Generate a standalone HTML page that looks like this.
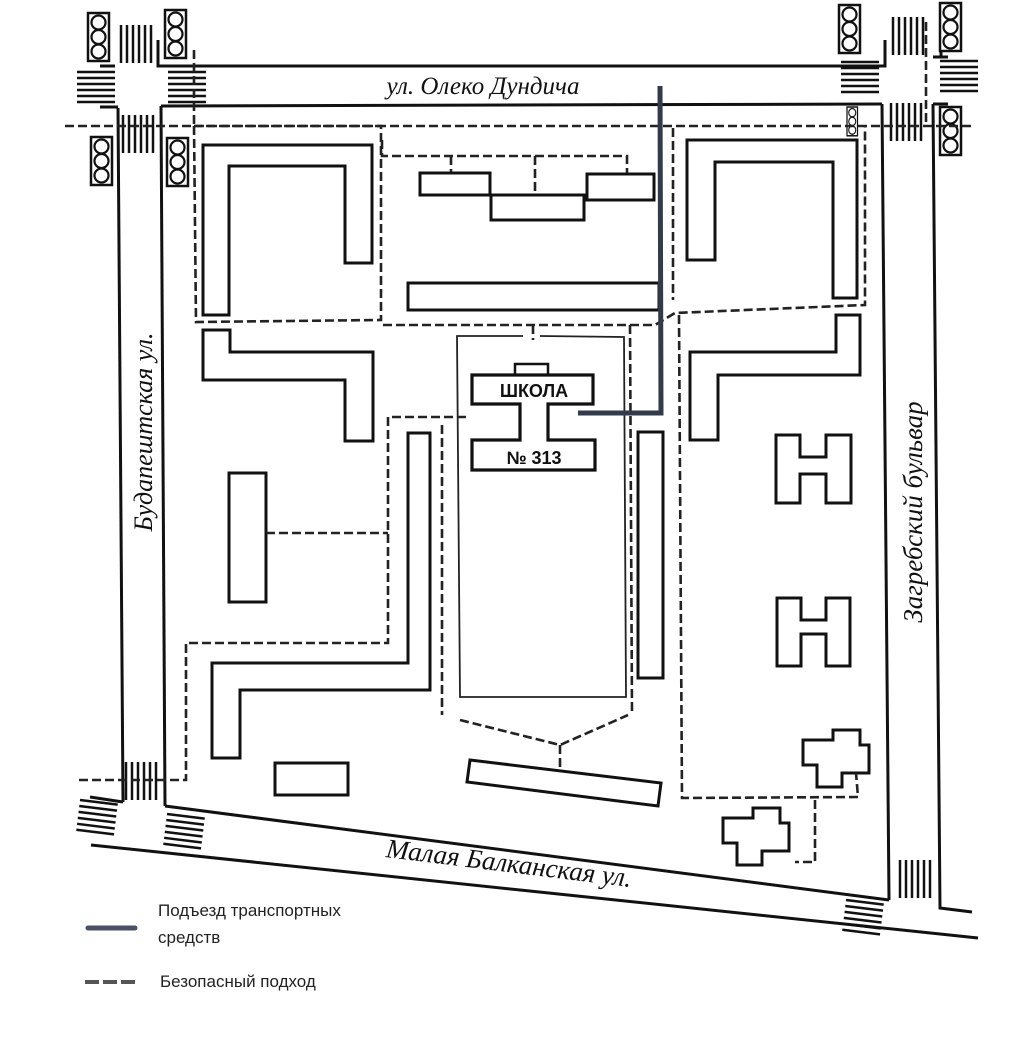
<!DOCTYPE html>
<html><head><meta charset="utf-8"><style>
html,body{margin:0;padding:0;background:#fff;}
svg{display:block;}
.t{font-family:"Liberation Serif","DejaVu Serif",serif;font-style:italic;fill:#111;}
.l{font-family:"Liberation Sans","DejaVu Sans",sans-serif;font-size:17px;fill:#222;}
</style></head><body>
<svg width="1024" height="1040" viewBox="0 0 1024 1040" xmlns="http://www.w3.org/2000/svg">
<g fill="none" stroke="#111" stroke-width="3">
<polyline points="158,40 158,66 885,66 885,40"/>
<line x1="161" y1="106" x2="882" y2="104"/>
<polyline points="115,66 100,66"/>
<line x1="118" y1="108" x2="123" y2="802"/>
<line x1="161" y1="106" x2="165" y2="806"/>
<line x1="123" y1="802" x2="90" y2="797"/>
<polyline points="882,104 889,900"/>
<polyline points="933,104 940,908 972,912"/>
<line x1="165" y1="806" x2="889" y2="900"/>
<line x1="91" y1="845" x2="978" y2="938"/>
<line x1="100" y1="107" x2="118" y2="107"/>
<line x1="933" y1="104" x2="948" y2="104"/>
<line x1="933" y1="57" x2="948" y2="57"/>
<line x1="941" y1="40" x2="941" y2="57"/>
</g>
<g stroke="#111" stroke-width="2.5">
<g id="v1"><line x1="121" y1="25" x2="121" y2="63"/><line x1="127" y1="25" x2="127" y2="63"/><line x1="133" y1="25" x2="133" y2="63"/><line x1="139" y1="25" x2="139" y2="63"/><line x1="145" y1="25" x2="145" y2="63"/><line x1="151" y1="25" x2="151" y2="63"/></g>
<use href="#v1" transform="translate(2,90)"/>
<use href="#v1" transform="translate(772,-8)"/>
<use href="#v1" transform="translate(770,78)"/>
<use href="#v1" transform="translate(5,737)"/>
<use href="#v1" transform="translate(779,835)"/>
<g id="h1"><line x1="77" y1="72" x2="115" y2="72"/><line x1="77" y1="78" x2="115" y2="78"/><line x1="77" y1="84" x2="115" y2="84"/><line x1="77" y1="90" x2="115" y2="90"/><line x1="77" y1="96" x2="115" y2="96"/><line x1="77" y1="102" x2="115" y2="102"/></g>
<use href="#h1" transform="translate(91,0)"/>
<use href="#h1" transform="translate(764,-10)"/>
<use href="#h1" transform="translate(863,-11)"/>
<g transform="translate(80,800) rotate(7)"><use href="#h1" transform="translate(-77,-72)"/></g>
<g transform="translate(167,814) rotate(7)"><use href="#h1" transform="translate(-77,-72)"/></g>
<g transform="translate(846,900) rotate(7)"><use href="#h1" transform="translate(-77,-72)"/></g>
</g>
<defs><g id="tl"><rect x="0" y="0" width="21" height="48" fill="#fff" stroke="#111" stroke-width="2.5"/><circle cx="10.5" cy="9.5" r="7" fill="none" stroke="#111" stroke-width="2.2"/><circle cx="10.5" cy="24" r="7" fill="none" stroke="#111" stroke-width="2.2"/><circle cx="10.5" cy="38.5" r="7" fill="none" stroke="#111" stroke-width="2.2"/></g></defs>
<use href="#tl" x="88" y="13"/><use href="#tl" x="165" y="10"/>
<use href="#tl" x="91" y="137"/><use href="#tl" x="167" y="138"/>
<use href="#tl" x="839" y="5"/><use href="#tl" x="940" y="3"/>
<use href="#tl" x="940" y="107"/>
<g transform="translate(847,107) scale(0.5,0.6)"><use href="#tl"/></g>
<text class="t" x="483" y="94" text-anchor="middle" font-size="25">ул. Олеко Дундича</text>
<text class="t" transform="translate(152,432) rotate(-90)" text-anchor="middle" font-size="26">Будапештская ул.</text>
<text class="t" transform="translate(922,512) rotate(-90)" text-anchor="middle" font-size="27">Загребский бульвар</text>
<text class="t" transform="translate(508,872) rotate(7)" text-anchor="middle" font-size="27">Малая Балканская ул.</text>
<g fill="none" stroke="#111" stroke-width="3">
<polygon points="203,145 372,145 372,263 345,263 345,166 229,166 229,315 203,315"/>
<rect x="420" y="173" width="70" height="22"/>
<rect x="491" y="195" width="93" height="25"/>
<rect x="587" y="174" width="67" height="26"/>
<rect x="408" y="283" width="251" height="27"/>
<polygon points="203,330 230,330 230,352 373,352 373,441 345,441 345,380 203,380"/>
<rect x="229" y="473" width="37" height="129"/>
<polygon points="408,433 430,433 430,690 240,690 240,758 212,758 212,663 408,663"/>
<rect x="275" y="763" width="73" height="32"/>
<polygon points="470,760 661,783 658,806 467,782"/>
<rect x="638" y="432" width="25" height="246"/>
<polygon points="687,140 857,140 857,298 833,298 833,162 715,162 715,260 687,260"/>
<polygon points="836,315 860,315 860,375 718,375 718,440 690,440 690,352 836,352"/>
<polygon points="776,435 800,435 800,457 826,457 826,435 851,435 851,503 826,503 826,474 800,474 800,503 776,503"/>
<polygon points="777,598 801,598 801,620 826,620 826,598 850,598 850,666 826,666 826,634 801,634 801,666 777,666"/>
<polygon id="cr" points="803,740 833,740 833,730 860,730 860,745 869,745 869,773 842,773 842,787 817,787 817,765 803,765"/>
<use href="#cr" transform="translate(-80,78)"/>
<polygon points="472,375 593,375 593,404 548,404 548,440 595,440 595,470 472,470 472,440 520,440 520,404 472,404" stroke-width="3.2"/>
<rect x="515" y="364" width="33" height="11" stroke-width="2.5"/>
</g>
<g fill="none" stroke="#222" stroke-width="1.8">
<polyline points="523,336 457,336 460,697 626,697 624,337 540,336"/>
</g>
<text x="534" y="397" text-anchor="middle" font-family="Liberation Sans,sans-serif" font-weight="bold" font-size="18" fill="#111">ШКОЛА</text>
<text x="534" y="464" text-anchor="middle" font-family="Liberation Sans,sans-serif" font-weight="bold" font-size="18" fill="#111">№ 313</text>
<g fill="none" stroke="#222" stroke-width="2.6" stroke-dasharray="9,4">
<line x1="65" y1="126" x2="975" y2="126"/>
<line x1="194" y1="50" x2="194" y2="126"/>
<line x1="926" y1="22" x2="926" y2="126"/>
<polyline points="194,126 196,322 381,320 381,126 194,126"/>
<polyline points="382,140 382,156 627,156 627,173"/>
<line x1="451" y1="156" x2="451" y2="172"/>
<line x1="535" y1="156" x2="535" y2="193"/>
<polyline points="383,325 655,325 675,313 865,305 865,126"/>
<polyline points="673,128 673,300"/>
<line x1="533" y1="325" x2="533" y2="340"/>
<polyline points="466,417 388,417 388,643 186,643 186,780 78,780"/>
<line x1="266" y1="533" x2="388" y2="533"/>
<line x1="442" y1="425" x2="442" y2="715"/>
<line x1="630" y1="325" x2="632" y2="712"/>
<polyline points="460,720 560,745 628,715"/>
<line x1="560" y1="745" x2="560" y2="770"/>
<polyline points="679,315 682,798 858,797 856,773"/>
<polyline points="815,800 815,862 795,862"/>
</g>
<polyline points="660,86 661,413 578,413" fill="none" stroke="#333a4a" stroke-width="5"/>
<line x1="88" y1="928" x2="135" y2="928" stroke="#4a5066" stroke-width="5" stroke-linecap="round"/>
<text class="l" x="158" y="916">Подъезд транспортных</text>
<text class="l" x="158" y="943">средств</text>
<line x1="85" y1="982" x2="138" y2="982" stroke="#555" stroke-width="4" stroke-dasharray="14,4"/>
<text class="l" x="160" y="987">Безопасный подход</text>
</svg>
</body></html>
